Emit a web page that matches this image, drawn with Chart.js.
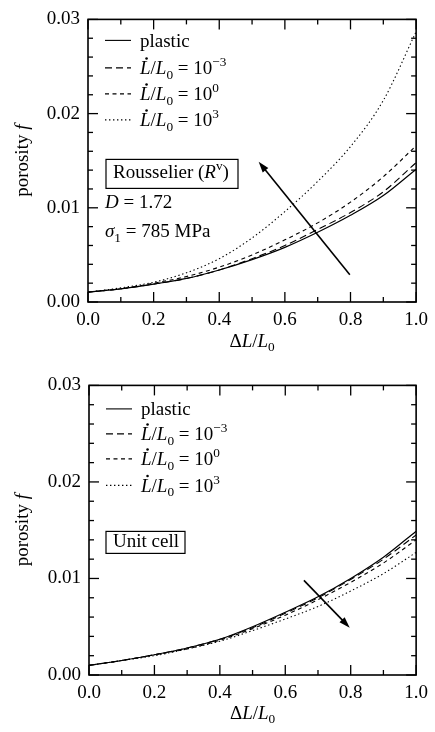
<!DOCTYPE html>
<html>
<head>
<meta charset="utf-8">
<script src="https://cdn.jsdelivr.net/npm/chart.js@4"></script>
<style>
html, body { margin: 0; padding: 0; background: #fff; }
#wrap { position: relative; width: 435px; height: 732px; }
canvas { position: absolute; left: 0; }
</style>
</head>
<body>
<div id="wrap">
  <canvas id="topChart" width="435" height="366" style="top:0"></canvas>
  <canvas id="botChart" width="435" height="366" style="top:366px"></canvas>
</div>
<script>
/* porosity f vs ΔL/L0 - two panels */

// --- DATA ---
const STRAIN = [0, 0.1, 0.2, 0.3, 0.4, 0.5, 0.6, 0.7, 0.8, 0.9, 1.0];

// Rousselier (R^v)
const TOP_PLASTIC = [0.00105, 0.0014, 0.0019, 0.0025, 0.0034, 0.0045, 0.0058, 0.0074, 0.0092, 0.0113, 0.0141];
const TOP_RATE_M3 = [0.00105, 0.0014, 0.0019, 0.0025, 0.0034, 0.0046, 0.0060, 0.0077, 0.0095, 0.0117, 0.0148];
const TOP_RATE_0  = [0.00105, 0.0014, 0.0020, 0.0027, 0.0037, 0.0050, 0.0066, 0.0084, 0.0106, 0.0133, 0.0166];
const TOP_RATE_3  = [0.00105, 0.0015, 0.0021, 0.0031, 0.0046, 0.0068, 0.0096, 0.0128, 0.0165, 0.0214, 0.0287];

// Unit cell
const BOT_PLASTIC = [0.0010, 0.0015, 0.0021, 0.0028, 0.0037, 0.0050, 0.0065, 0.0081, 0.0100, 0.0122, 0.0149];
const BOT_RATE_M3 = [0.0010, 0.0015, 0.0021, 0.0028, 0.0037, 0.0049, 0.0064, 0.0080, 0.0099, 0.0120, 0.0145];
const BOT_RATE_0  = [0.0010, 0.0015, 0.0021, 0.0027, 0.0036, 0.0048, 0.0062, 0.0078, 0.0096, 0.0116, 0.0140];
const BOT_RATE_3  = [0.0010, 0.0015, 0.0020, 0.0027, 0.0035, 0.0046, 0.0058, 0.0071, 0.0087, 0.0105, 0.0127];

const SERIES_NAMES = ['plastic', 'L/L0 = 10^-3', 'L/L0 = 10^0', 'L/L0 = 10^3'];
const RATE_EXP = ['\u22123', '0', '3'];

// arrows [from, to] in data units
const TOP_ARROW = [[0.798, 0.0029], [0.52, 0.0149]];
const BOT_ARROW = [[0.657, 0.0098], [0.797, 0.0049]];

const X_TICK_STEP = 0.2;
const Y_TICK_STEP = 0.01;

// --- STYLE ---
const FONT = '"Liberation Serif", "Times New Roman", serif';
const SZ = 19;
const DASHES = [[], [7, 4], [4, 3.5], [1.4, 2.6]];

function setFont(ctx, kind, size) {
    const s = (kind === 'sub' || kind === 'sup') ? size * 0.7 : size;
    const it = (kind === 'i' || kind === 'dot') ? 'italic ' : '';
    ctx.font = it + s + 'px ' + FONT;
}

function richWidth(ctx, parts, size) {
    let w = 0;
    parts.forEach(([k, t]) => { setFont(ctx, k, size); w += ctx.measureText(t).width; });
    return w;
}

function drawRich(ctx, parts, x, y, size) {
    ctx.textAlign = 'left';
    ctx.textBaseline = 'alphabetic';
    parts.forEach(([k, t]) => {
        setFont(ctx, k, size);
        let dy = 0;
        if (k === 'sub') dy = size * 0.22;
        if (k === 'sup') dy = -size * 0.42;
        ctx.fillText(t, x, y + dy);
        const w = ctx.measureText(t).width;
        if (k === 'dot') {
            ctx.beginPath();
            ctx.arc(x + w * 0.62, y - size * 0.84, 1.3, 0, Math.PI * 2);
            ctx.fill();
        }
        x += w;
    });
    return x;
}

function legendParts(i) {
    if (i === 0) return [['r', 'plastic']];
    return [['dot', 'L'], ['r', '/'], ['i', 'L'], ['sub', '0'], ['r', ' = 10'], ['sup', RATE_EXP[i - 1]]];
}

// --- DECORATION PLUGIN (frame, ticks, legend, labels, arrow) ---
const paperDeco = {
    id: 'paperDeco',
    afterDraw(chart, args, o) {
        const { ctx, chartArea: a, scales: { x, y } } = chart;
        ctx.save();
        ctx.fillStyle = '#000';
        ctx.strokeStyle = '#000';
        ctx.setLineDash([]);

        const seg = (x0, y0, x1, y1) => { ctx.beginPath(); ctx.moveTo(x0, y0); ctx.lineTo(x1, y1); ctx.stroke(); };

        // frame
        ctx.lineWidth = 1.6;
        ctx.strokeRect(a.left, a.top, a.right - a.left, a.bottom - a.top);

        // inward ticks on all sides
        ctx.lineWidth = 1.3;
        for (let i = 0; i <= 10; i++) {
            const px = x.getPixelForValue(i / 10);
            const len = i % 2 ? 5 : 10;
            seg(px, a.bottom, px, a.bottom - len);
            seg(px, a.top, px, a.top + len);
        }
        for (let i = 0; i <= 15; i++) {
            const py = y.getPixelForValue(i * 0.002);
            const len = i % 5 ? 5 : 10;
            seg(a.left, py, a.left + len, py);
            seg(a.right, py, a.right - len, py);
        }

        // legend
        chart.data.datasets.forEach((ds, i) => {
            const ly = a.top + o.rows[i];
            ctx.lineWidth = 1.1;
            ctx.setLineDash(DASHES[i]);
            seg(a.left + 17, ly, a.left + 43, ly);
            ctx.setLineDash([]);
            drawRich(ctx, legendParts(i), a.left + 52, ly + 6.5, SZ);
        });

        // boxed label
        const b = o.box;
        ctx.lineWidth = 1.2;
        ctx.strokeRect(a.left + b.x, a.top + b.y, b.w, b.h);
        drawRich(ctx, b.parts, a.left + b.x + 7, a.top + b.y + b.h - b.base, SZ);

        // notes
        (o.notes || []).forEach(n => drawRich(ctx, n.parts, a.left + n.x, a.top + n.y, SZ));

        // arrow
        const [p0, p1] = o.arrow;
        const x0 = x.getPixelForValue(p0[0]), y0 = y.getPixelForValue(p0[1]);
        const x1 = x.getPixelForValue(p1[0]), y1 = y.getPixelForValue(p1[1]);
        const ang = Math.atan2(y1 - y0, x1 - x0);
        const hl = 11, hw = 3.6;
        ctx.lineWidth = 1.6;
        seg(x0, y0, x1 - Math.cos(ang) * hl * 0.8, y1 - Math.sin(ang) * hl * 0.8);
        ctx.beginPath();
        ctx.moveTo(x1, y1);
        ctx.lineTo(x1 - Math.cos(ang) * hl - Math.sin(ang) * hw, y1 - Math.sin(ang) * hl + Math.cos(ang) * hw);
        ctx.lineTo(x1 - Math.cos(ang) * hl + Math.sin(ang) * hw, y1 - Math.sin(ang) * hl - Math.cos(ang) * hw);
        ctx.closePath();
        ctx.fill();

        // axis titles
        const xt = [['r', '\u0394'], ['i', 'L'], ['r', '/'], ['i', 'L'], ['sub', '0']];
        const cx = (a.left + a.right) / 2;
        drawRich(ctx, xt, cx - richWidth(ctx, xt, SZ) / 2, a.bottom + o.xTitleGap, SZ);

        const yt = [['r', 'porosity '], ['i', 'f']];
        ctx.translate(28, (a.top + a.bottom) / 2);
        ctx.rotate(-Math.PI / 2);
        drawRich(ctx, yt, -richWidth(ctx, yt, SZ) / 2, 0, SZ);

        ctx.restore();
    }
};

// --- PANEL BUILDER ---
function makePanel(canvasId, seriesList, deco, pad, yWidth, xHeight) {
    const datasets = seriesList.map((vals, i) => ({
        label: SERIES_NAMES[i],
        data: STRAIN.map((s, k) => ({ x: s, y: vals[k] })),
        borderColor: '#000',
        borderWidth: i === 0 ? 1.2 : 1.1,
        borderDash: DASHES[i],
        pointRadius: 0,
        fill: false,
        cubicInterpolationMode: 'monotone'
    }));

    const tickFont = { family: FONT, size: SZ };

    return new Chart(document.getElementById(canvasId), {
        type: 'line',
        data: { datasets },
        options: {
            responsive: false,
            animation: false,
            devicePixelRatio: 1,
            layout: { padding: pad },
            plugins: {
                legend: { display: false },
                tooltip: { enabled: false },
                paperDeco: deco
            },
            scales: {
                x: {
                    type: 'linear', min: 0, max: 1,
                    grid: { display: false, drawTicks: false },
                    border: { display: false },
                    ticks: { stepSize: X_TICK_STEP, color: '#000', font: tickFont, padding: 7, maxRotation: 0,
                             callback: v => v.toFixed(1) },
                    afterFit: s => { s.height = xHeight; }
                },
                y: {
                    min: 0, max: 0.03,
                    grid: { display: false, drawTicks: false },
                    border: { display: false },
                    ticks: { stepSize: Y_TICK_STEP, color: '#000', font: tickFont, padding: 8,
                             callback: v => v.toFixed(2) },
                    afterFit: s => { s.width = yWidth; }
                }
            }
        },
        plugins: [paperDeco]
    });
}

makePanel('topChart', [TOP_PLASTIC, TOP_RATE_M3, TOP_RATE_0, TOP_RATE_3], {
    rows: [21, 48.5, 74.5, 100.5],
    box: { x: 18, y: 140, w: 132, h: 29, base: 10,
           parts: [['r', 'Rousselier ('], ['i', 'R'], ['sup', 'v'], ['r', ')']] },
    notes: [
        { x: 17, y: 189, parts: [['i', 'D'], ['r', ' = 1.72']] },
        { x: 17, y: 218, parts: [['i', '\u03c3'], ['sub', '1'], ['r', ' = 785 MPa']] }
    ],
    arrow: TOP_ARROW,
    xTitleGap: 45
}, { left: 0, right: 13, top: 13, bottom: 0 }, 88, 64);

makePanel('botChart', [BOT_PLASTIC, BOT_RATE_M3, BOT_RATE_0, BOT_RATE_3], {
    rows: [23.5, 48.5, 73.5, 100],
    box: { x: 17, y: 146, w: 79, h: 22, base: 6,
           parts: [['r', 'Unit cell']] },
    notes: [],
    arrow: BOT_ARROW,
    xTitleGap: 44
}, { left: 0, right: 12, top: 19, bottom: 0 }, 89, 57);
</script>
</body>
</html>
